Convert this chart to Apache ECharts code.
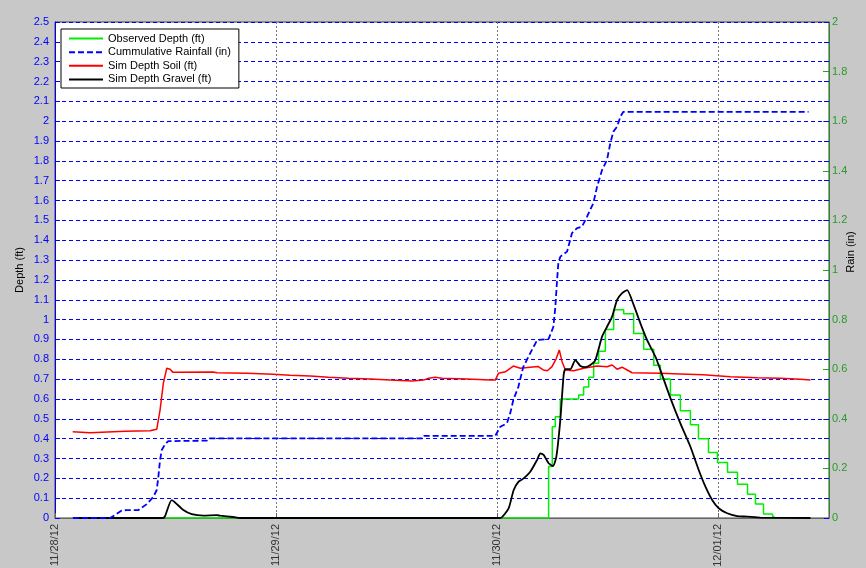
<!DOCTYPE html>
<html>
<head>
<meta charset="utf-8">
<script src="https://cdn.jsdelivr.net/npm/echarts@6/dist/echarts.min.js"></script>
<style>
html,body{margin:0;padding:0;background:#c8c8c8;}
#chart{width:866px;height:568px;}
</style>
</head>
<body>
<div id="chart"></div>
<script>
// ---------- DATA (hours from 11/28/12 00:00) ----------
const xTickLabels = ['11/28/12', '11/29/12', '11/30/12', '12/01/12'];
const seriesNames = ['Observed Depth (ft)', 'Cummulative Rainfall (in)', 'Sim Depth Soil (ft)', 'Sim Depth Gravel (ft)'];

const obsHours = [12.05, 53.57, 53.97, 54.3, 54.84, 56.83, 57.37, 57.92, 58.46, 59.0, 59.73, 60.63, 61.72, 62.8, 63.89, 64.98, 65.7, 66.79, 67.87, 68.96, 69.83, 70.92, 71.9, 72.99, 74.07, 75.16, 76.02, 76.89, 77.87, 78.08];
const obsDepth = [0, 0.26, 0.46, 0.51, 0.60, 0.62, 0.66, 0.71, 0.78, 0.84, 0.95, 1.05, 1.03, 0.93, 0.85, 0.77, 0.70, 0.62, 0.54, 0.47, 0.40, 0.33, 0.28, 0.23, 0.17, 0.12, 0.07, 0.02, 0.007, 0.007];

const rainHours = [1.95, 5.97, 6.52, 7.24, 7.79, 9.05, 9.96, 10.68, 11.04, 11.22, 11.4, 11.59, 11.95, 12.3, 16.47, 16.65, 39.97, 40.07, 47.78, 48.33, 49.05, 49.41, 49.74, 50.28, 50.82, 51.58, 52.34, 53.57, 54.08, 54.3, 54.49, 54.63, 54.85, 55.57, 56.11, 56.66, 57.2, 57.74, 58.43, 58.83, 59.37, 59.91, 60.27, 60.6, 61.0, 61.36, 61.68, 81.78];
const rainInches = [0, 0, 0.012, 0.03, 0.032, 0.032, 0.056, 0.086, 0.113, 0.167, 0.234, 0.274, 0.298, 0.31, 0.312, 0.321, 0.321, 0.331, 0.331, 0.368, 0.382, 0.423, 0.476, 0.528, 0.609, 0.665, 0.718, 0.722, 0.77, 0.85, 0.96, 1.03, 1.054, 1.074, 1.149, 1.169, 1.175, 1.215, 1.27, 1.336, 1.403, 1.444, 1.512, 1.558, 1.578, 1.618, 1.638, 1.638];

const soilHours = [1.92, 3.8, 7.6, 10.3, 11.04, 11.4, 11.76, 12.13, 12.49, 12.81, 17.16, 17.56, 20.82, 23.67, 25.52, 27.69, 29.68, 31.85, 34.21, 36.38, 38.74, 40.0, 40.54, 41.27, 41.99, 44.71, 47.24, 47.78, 48.14, 48.33, 48.87, 49.74, 50.5, 51.58, 52.45, 52.99, 53.43, 53.94, 54.41, 54.73, 55.03, 55.39, 56.29, 57.37, 58.83, 59.91, 60.46, 61.0, 61.54, 62.09, 62.63, 65.7, 67.87, 70.37, 73.3, 76.2, 78.73, 80.9, 81.99];
const soilDepth = [0.435, 0.43, 0.437, 0.44, 0.447, 0.544, 0.68, 0.755, 0.75, 0.734, 0.736, 0.732, 0.729, 0.724, 0.72, 0.716, 0.709, 0.704, 0.70, 0.695, 0.69, 0.695, 0.704, 0.709, 0.704, 0.70, 0.695, 0.695, 0.73, 0.73, 0.737, 0.766, 0.755, 0.76, 0.763, 0.746, 0.742, 0.763, 0.805, 0.847, 0.788, 0.746, 0.742, 0.755, 0.766, 0.762, 0.771, 0.75, 0.76, 0.746, 0.732, 0.729, 0.726, 0.722, 0.712, 0.707, 0.704, 0.699, 0.695];

const gravelHours = [1.95, 11.73, 11.95, 12.67, 13.93, 14.85, 16.1, 17.56, 17.92, 19.33, 20.09, 48.0, 48.33, 49.23, 49.77, 50.31, 50.86, 51.58, 52.31, 52.67, 53.03, 53.57, 54.05, 54.41, 54.85, 55.2, 55.39, 55.93, 56.47, 57.02, 57.56, 58.1, 58.64, 59.37, 59.91, 60.46, 61.0, 61.47, 62.09, 62.8, 63.53, 64.26, 65.16, 65.7, 66.8, 67.87, 68.96, 69.86, 70.59, 71.32, 72.03, 72.95, 74.03, 75.12, 76.56, 81.99];
const gravelDepth = [0, 0, 0.01, 0.09, 0.04, 0.019, 0.012, 0.014, 0.012, 0.005, 0, 0, 0, 0.049, 0.14, 0.183, 0.2, 0.233, 0.292, 0.326, 0.318, 0.276, 0.262, 0.309, 0.50, 0.72, 0.75, 0.75, 0.796, 0.766, 0.76, 0.771, 0.796, 0.914, 0.964, 1.015, 1.099, 1.13, 1.149, 1.074, 0.981, 0.897, 0.813, 0.746, 0.603, 0.477, 0.359, 0.242, 0.158, 0.091, 0.049, 0.024, 0.01, 0.007, 0.002, 0];

const depthTicks = {min: 0, max: 2.5, step: 0.1};
const rainTicks = {min: 0, max: 2, step: 0.2};
const dayHours = 24;

// ---------- CHART ----------
const zip = (a, b) => a.map((v, i) => [v, b[i]]);
const FONT = 'Arial, "Liberation Sans", sans-serif';
const BLUE = '#0000ff', GREEN = '#2a9a2a';

const chart = echarts.init(document.getElementById('chart'), null, {renderer: 'canvas'});
chart.setOption({
  backgroundColor: '#c8c8c8',
  animation: false,
  textStyle: {fontFamily: FONT},
  grid: {left: 55, right: 37, top: 22, bottom: 50, show: true, backgroundColor: '#ffffff',
         borderColor: '#444', borderWidth: 1, containLabel: false, outerBoundsMode: 'none'},
  legend: {
    orient: 'vertical', left: 61, top: 29,
    backgroundColor: '#ffffff', borderColor: '#000', borderWidth: 1, borderRadius: 0,
    padding: [4, 8, 3, 7], itemGap: 2.4, itemWidth: 34, itemHeight: 14,
    itemStyle: {opacity: 0},
    textStyle: {fontSize: 11, color: '#000', fontFamily: FONT},
    data: seriesNames
  },
  xAxis: {
    type: 'value', min: 0, max: 84, interval: dayHours,
    axisLine: {show: true, lineStyle: {color: '#666', width: 1}},
    axisTick: {show: true, inside: true, length: 5, lineStyle: {color: '#666'}},
    axisLabel: {rotate: 90, fontSize: 11, color: '#333', margin: 6, fontFamily: FONT,
      formatter: v => { const i = Math.round(v / dayHours); return xTickLabels[i] || ''; }},
    splitLine: {show: true, lineStyle: {color: '#777', type: [2, 2], width: 1}}
  },
  yAxis: [
    {
      type: 'value', position: 'left', min: depthTicks.min, max: depthTicks.max, interval: depthTicks.step,
      name: 'Depth (ft)', nameLocation: 'middle', nameRotate: 90, nameGap: 30, nameMoveOverlap: false,
      nameTextStyle: {fontSize: 11, color: '#000', fontFamily: FONT},
      axisLine: {show: true, lineStyle: {color: BLUE, width: 1}},
      axisTick: {show: true, inside: true, length: 5, lineStyle: {color: BLUE}},
      axisLabel: {fontSize: 11, color: BLUE, margin: 6, fontFamily: FONT,
        formatter: v => String(Math.round(v * 10) / 10)},
      splitLine: {show: true, lineStyle: {color: BLUE, type: [4, 3], width: 1}}
    },
    {
      type: 'value', position: 'right', min: rainTicks.min, max: rainTicks.max, interval: rainTicks.step,
      name: 'Rain (in)', nameLocation: 'middle', nameRotate: 90, nameGap: 16, nameMoveOverlap: false,
      nameTextStyle: {fontSize: 11, color: '#000', fontFamily: FONT, padding: [0, 0, 0, 36]},
      axisLine: {show: true, lineStyle: {color: '#228b22', width: 1}},
      axisTick: {show: true, inside: true, length: 6, lineStyle: {color: GREEN}},
      axisLabel: {fontSize: 11, color: GREEN, margin: 3, fontFamily: FONT,
        formatter: v => String(Math.round(v * 10) / 10)},
      splitLine: {show: false}
    },
    {
      type: 'value', position: 'right', min: depthTicks.min, max: depthTicks.max, interval: depthTicks.step,
      axisLine: {show: false},
      axisTick: {show: true, inside: true, length: 5, lineStyle: {color: BLUE}},
      axisLabel: {show: false},
      splitLine: {show: false}
    }
  ],
  series: [
    {name: seriesNames[0], type: 'line', yAxisIndex: 0, step: 'end', showSymbol: false, symbol: 'none',
     data: zip(obsHours, obsDepth), lineStyle: {color: '#00ee00', width: 1.5}, itemStyle: {color: '#00ee00'}, z: 2},
    {name: seriesNames[1], type: 'line', yAxisIndex: 1, showSymbol: false, symbol: 'none',
     data: zip(rainHours, rainInches), lineStyle: {color: BLUE, width: 1.8, type: [6, 3]}, itemStyle: {color: BLUE}, z: 5},
    {name: seriesNames[2], type: 'line', yAxisIndex: 0, showSymbol: false, symbol: 'none',
     data: zip(soilHours, soilDepth), lineStyle: {color: '#ff0000', width: 1.5}, itemStyle: {color: '#ff0000'}, z: 3},
    {name: seriesNames[3], type: 'line', yAxisIndex: 0, showSymbol: false, symbol: 'none', smooth: 0.2,
     data: zip(gravelHours, gravelDepth), lineStyle: {color: '#000000', width: 1.8}, itemStyle: {color: '#000000'}, z: 4}
  ]
});
</script>
</body>
</html>
